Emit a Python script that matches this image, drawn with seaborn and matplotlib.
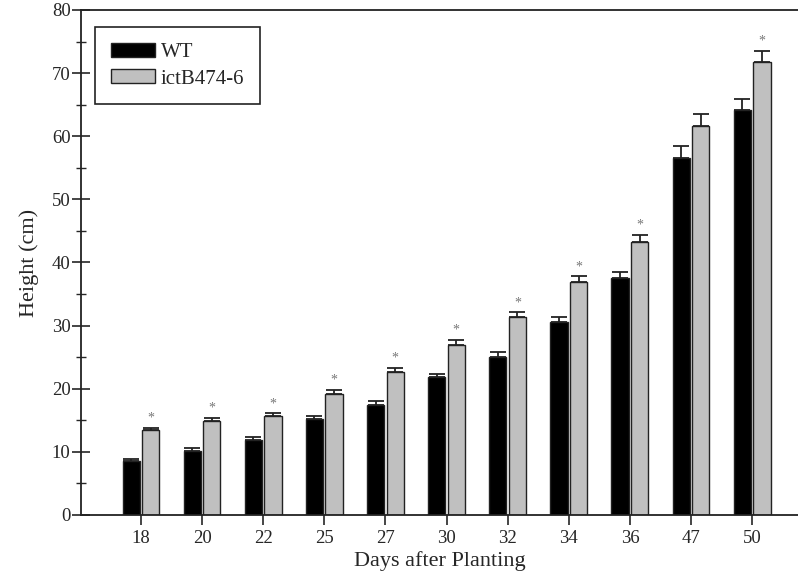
import pandas as pd
import matplotlib.pyplot as plt
import seaborn as sns

days = ['18', '20', '22', '25', '27', '30', '32', '34', '36', '47', '50']
wt_height = [8.6, 10.2, 11.9, 15.2, 17.5, 21.8, 25.1, 30.6, 37.5, 56.6, 64.2]
wt_err = [0.25, 0.4, 0.5, 0.5, 0.6, 0.6, 0.7, 0.8, 1.0, 1.9, 1.7]
ict_height = [13.5, 14.9, 15.6, 19.1, 22.7, 27.0, 31.4, 36.9, 43.3, 61.6, 71.7]
ict_err = [0.3, 0.5, 0.5, 0.7, 0.6, 0.7, 0.7, 0.9, 1.1, 1.9, 1.8]
significant = [True, True, True, True, True, True, True, True, True, False, True]
lines = ['WT', 'ictB474-6']

sns.set_style('ticks')
plt.rcParams['font.family'] = ['Liberation Serif', 'DejaVu Serif']

df = pd.DataFrame({
    'day': days * 2,
    'height': wt_height + ict_height,
    'line': [lines[0]] * len(days) + [lines[1]] * len(days),
})

fig = plt.figure(figsize=(7.98, 5.77), dpi=100)
ax = fig.add_axes([0.1015, 0.1075, 0.9, 0.8752])

sns.barplot(data=df, x='day', y='height', hue='line', order=days, hue_order=lines,
            palette=['#000000', '#c0c0c0'], width=0.64, gap=0.12,
            edgecolor='#222222', linewidth=1.0, errorbar=None, ax=ax)

# one-sided error bars, placed on the bars seaborn drew
n = len(days)
bars = ax.patches[:2 * n]
errs = wt_err + ict_err
for b, e in zip(bars, errs):
    xc = b.get_x() + b.get_width() / 2
    top = b.get_height()
    ax.errorbar(xc, top, yerr=[[0], [e]], fmt='none', ecolor='#222222',
                elinewidth=1.3, capsize=5.8, capthick=1.3, zorder=3)

for i, b in enumerate(bars[n:]):
    if significant[i]:
        xc = b.get_x() + b.get_width() / 2
        ax.text(xc, b.get_height() + ict_err[i] + 0.5, '*', ha='center', va='bottom',
                fontsize=10, color='#777777')

ax.set_xlim(-0.98, 10.77)
ax.set_ylim(0, 80)
ax.set_yticks(range(0, 81, 10))
ax.set_yticks(range(5, 80, 10), minor=True)
ax.tick_params(axis='y', which='major', direction='inout', length=13, width=1.2, labelsize=13.5, pad=1)
ax.tick_params(axis='y', which='minor', direction='inout', length=7, width=1.0)
ax.tick_params(axis='x', direction='out', length=7, width=1.2, labelsize=13.5)

for s in ['left', 'bottom', 'top']:
    ax.spines[s].set_color('#222222')
    ax.spines[s].set_linewidth(1.3)
ax.spines['right'].set_visible(False)

ax.set_xlabel('Days after Planting', fontsize=16, labelpad=3)
ax.set_ylabel('Height (cm)', fontsize=16, labelpad=9)

leg = ax.legend(loc='upper left', bbox_to_anchor=(0.02, 0.966), fontsize=15,
                fancybox=False, edgecolor='#222222', framealpha=1,
                handlelength=2.1, handleheight=0.65, handletextpad=0.3,
                borderpad=0.75, labelspacing=0.35, borderaxespad=0)
leg.get_frame().set_linewidth(1.2)

fig.savefig('out.png', dpi=100)
